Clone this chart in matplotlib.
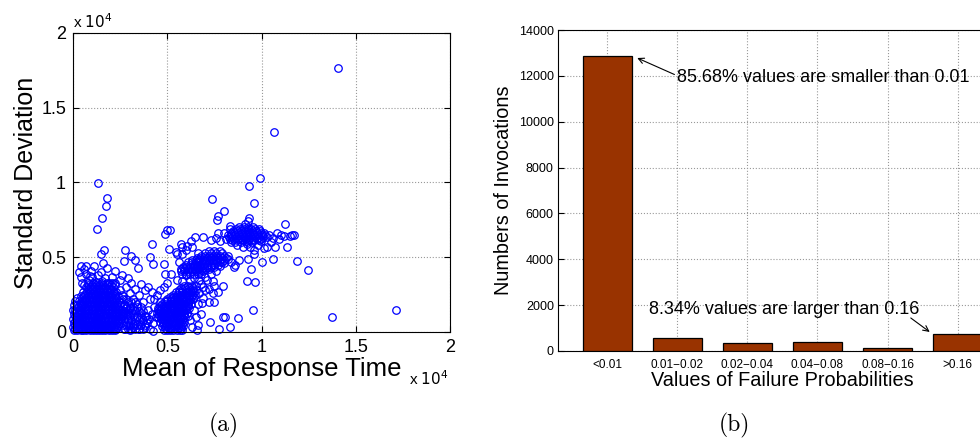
import numpy as np
import matplotlib.pyplot as plt

plt.rcParams['font.family'] = ['Liberation Sans', 'DejaVu Sans']

# ---- (a) scatter, values in units of 1e4 ----
# dense blob near origin, rows of (std, [means])
blob_a = [
    (0.010, [0.005, 0.02, 0.04, 0.055, 0.07, 0.09, 0.105, 0.12, 0.14, 0.155, 0.17, 0.19, 0.205, 0.225]),
    (0.022, [0.012, 0.03, 0.047, 0.062, 0.08, 0.097, 0.112, 0.13, 0.147, 0.162, 0.18, 0.197, 0.215, 0.23]),
    (0.035, [0.0, 0.015, 0.03, 0.05, 0.065, 0.08, 0.10, 0.115, 0.13, 0.15, 0.165, 0.18, 0.20, 0.215, 0.235]),
    (0.048, [0.008, 0.025, 0.04, 0.058, 0.072, 0.09, 0.107, 0.122, 0.14, 0.157, 0.172, 0.19, 0.207, 0.225, 0.24]),
    (0.060, [0.005, 0.02, 0.04, 0.055, 0.075, 0.09, 0.11, 0.125, 0.14, 0.16, 0.175, 0.195, 0.21, 0.23, 0.245]),
    (0.075, [0.012, 0.03, 0.047, 0.065, 0.082, 0.1, 0.117, 0.132, 0.15, 0.167, 0.185, 0.202, 0.22, 0.237, 0.25]),
    (0.090, [0.0, 0.015, 0.03, 0.05, 0.065, 0.085, 0.10, 0.12, 0.135, 0.15, 0.17, 0.185, 0.205, 0.22, 0.24, 0.255]),
    (0.105, [0.008, 0.022, 0.04, 0.057, 0.075, 0.092, 0.11, 0.127, 0.142, 0.16, 0.177, 0.195, 0.212, 0.23, 0.245, 0.26]),
    (0.120, [0.005, 0.025, 0.04, 0.06, 0.075, 0.095, 0.11, 0.13, 0.145, 0.165, 0.18, 0.20, 0.215, 0.235, 0.25, 0.265]),
    (0.135, [0.015, 0.032, 0.05, 0.067, 0.085, 0.102, 0.12, 0.137, 0.155, 0.172, 0.19, 0.207, 0.225, 0.242, 0.258]),
    (0.150, [0.01, 0.03, 0.045, 0.065, 0.08, 0.10, 0.115, 0.135, 0.15, 0.17, 0.185, 0.205, 0.22, 0.24, 0.26]),
    (0.165, [0.025, 0.047, 0.065, 0.082, 0.1, 0.117, 0.135, 0.152, 0.17, 0.187, 0.205, 0.222, 0.24]),
    (0.180, [0.02, 0.04, 0.055, 0.075, 0.09, 0.11, 0.125, 0.145, 0.16, 0.18, 0.195, 0.215, 0.23, 0.25]),
    (0.195, [0.037, 0.057, 0.075, 0.092, 0.11, 0.127, 0.145, 0.162, 0.18, 0.197, 0.215, 0.235]),
    (0.210, [0.03, 0.05, 0.065, 0.085, 0.10, 0.12, 0.135, 0.155, 0.17, 0.19, 0.205, 0.225, 0.245]),
    (0.225, [0.05, 0.07, 0.087, 0.105, 0.122, 0.14, 0.157, 0.175, 0.192, 0.21, 0.23]),
    (0.240, [0.045, 0.06, 0.08, 0.095, 0.115, 0.13, 0.15, 0.165, 0.185, 0.20, 0.22, 0.24]),
    (0.255, [0.062, 0.082, 0.1, 0.117, 0.135, 0.152, 0.17, 0.187, 0.205, 0.225]),
    (0.270, [0.055, 0.075, 0.09, 0.11, 0.125, 0.145, 0.16, 0.18, 0.195, 0.215, 0.23]),
    (0.285, [0.08, 0.1, 0.12, 0.14, 0.16, 0.18, 0.2]),
    (0.300, [0.07, 0.09, 0.11, 0.13, 0.15, 0.17, 0.19, 0.21]),
    (0.315, [0.06, 0.08, 0.10, 0.12, 0.14, 0.16, 0.18, 0.20, 0.22]),
    (0.330, [0.08, 0.105, 0.13, 0.155, 0.18, 0.205]),
]
blob_a2 = [
    (0.02, [0.27, 0.29, 0.31, 0.33, 0.35, 0.37]),
    (0.05, [0.265, 0.28, 0.30, 0.32, 0.34, 0.36, 0.38]),
    (0.08, [0.27, 0.29, 0.31, 0.33, 0.35, 0.37, 0.39]),
    (0.11, [0.265, 0.285, 0.30, 0.32, 0.34, 0.36, 0.38]),
    (0.14, [0.27, 0.29, 0.31, 0.33, 0.35, 0.37]),
    (0.17, [0.28, 0.30, 0.32, 0.34, 0.36]),
    (0.20, [0.29, 0.31, 0.33]),
]
blob_b = [
    (0.010, [0.48, 0.50, 0.515, 0.53, 0.55, 0.565, 0.58]),
    (0.025, [0.49, 0.507, 0.522, 0.54, 0.557, 0.572]),
    (0.040, [0.47, 0.485, 0.50, 0.52, 0.535, 0.55, 0.57, 0.585]),
    (0.055, [0.478, 0.492, 0.51, 0.527, 0.542, 0.56, 0.577]),
    (0.070, [0.46, 0.475, 0.49, 0.51, 0.525, 0.54, 0.56, 0.575, 0.59]),
    (0.085, [0.467, 0.482, 0.5, 0.517, 0.532, 0.55, 0.567, 0.582]),
    (0.100, [0.45, 0.465, 0.48, 0.50, 0.515, 0.53, 0.55, 0.565, 0.58, 0.595]),
    (0.115, [0.455, 0.472, 0.49, 0.507, 0.522, 0.54, 0.557, 0.572, 0.59]),
    (0.130, [0.445, 0.46, 0.475, 0.49, 0.51, 0.525, 0.54, 0.56, 0.575, 0.59, 0.605]),
    (0.145, [0.452, 0.467, 0.482, 0.5, 0.517, 0.532, 0.55, 0.567, 0.582, 0.6]),
    (0.160, [0.45, 0.47, 0.485, 0.50, 0.52, 0.535, 0.55, 0.57, 0.585, 0.60, 0.615]),
    (0.175, [0.46, 0.477, 0.495, 0.512, 0.53, 0.545, 0.562, 0.58, 0.597, 0.612]),
    (0.190, [0.47, 0.49, 0.51, 0.525, 0.54, 0.56, 0.575, 0.59, 0.61, 0.625]),
    (0.205, [0.485, 0.5, 0.517, 0.532, 0.55, 0.567, 0.582, 0.6, 0.617]),
    (0.220, [0.50, 0.52, 0.535, 0.55, 0.57, 0.585, 0.60, 0.62, 0.635]),
    (0.235, [0.515, 0.532, 0.547, 0.562, 0.577, 0.592, 0.607, 0.625, 0.64]),
    (0.250, [0.53, 0.55, 0.565, 0.58, 0.60, 0.615, 0.63, 0.645]),
    (0.265, [0.545, 0.562, 0.58, 0.597, 0.612, 0.627, 0.642]),
    (0.280, [0.56, 0.58, 0.60, 0.62, 0.635, 0.65]),
    (0.295, [0.575, 0.595, 0.615, 0.635]),
    (0.310, [0.59, 0.61, 0.63, 0.65]),
]
blob_c = [
    (0.390, [0.58, 0.60, 0.62, 0.64, 0.66, 0.68]),
    (0.405, [0.57, 0.59, 0.61, 0.63, 0.65, 0.67, 0.69]),
    (0.420, [0.57, 0.59, 0.61, 0.63, 0.645, 0.665, 0.685, 0.70, 0.72]),
    (0.435, [0.585, 0.6, 0.62, 0.64, 0.655, 0.675, 0.695, 0.71, 0.73, 0.745]),
    (0.450, [0.60, 0.62, 0.64, 0.655, 0.675, 0.69, 0.71, 0.73, 0.75, 0.77]),
    (0.465, [0.61, 0.63, 0.65, 0.665, 0.685, 0.70, 0.72, 0.74, 0.76, 0.78, 0.79]),
    (0.480, [0.63, 0.65, 0.67, 0.69, 0.70, 0.72, 0.74, 0.76, 0.78, 0.80]),
    (0.495, [0.655, 0.675, 0.695, 0.71, 0.73, 0.75, 0.77, 0.79, 0.81]),
    (0.510, [0.68, 0.70, 0.72, 0.74, 0.76, 0.78, 0.80, 0.82]),
    (0.525, [0.70, 0.73, 0.76, 0.79]),
    (0.540, [0.72, 0.75, 0.78]),
]
blob_d = [
    (0.6000, [0.86, 0.89, 0.92, 0.95]),
    (0.6125, [0.845, 0.87, 0.9, 0.93, 0.96, 0.985]),
    (0.6250, [0.83, 0.855, 0.875, 0.895, 0.915, 0.935, 0.955, 0.975, 0.995]),
    (0.6375, [0.825, 0.845, 0.865, 0.885, 0.905, 0.925, 0.945, 0.965, 0.985, 1.005, 1.03]),
    (0.6500, [0.82, 0.84, 0.86, 0.88, 0.90, 0.92, 0.94, 0.96, 0.98, 1.00, 1.02, 1.04]),
    (0.6625, [0.835, 0.855, 0.875, 0.895, 0.915, 0.935, 0.955, 0.975, 0.995, 1.015]),
    (0.6750, [0.85, 0.87, 0.89, 0.91, 0.93, 0.95, 0.97, 0.99]),
    (0.6875, [0.865, 0.885, 0.905, 0.925, 0.945, 0.965, 0.985]),
    (0.7000, [0.88, 0.905, 0.93, 0.955]),
]
# scattered points (mean, std)
sparse_mean = [0.05, 0.085, 0.12, 0.155, 0.19, 0.225, 0.04, 0.07, 0.10, 0.135, 0.17, 0.205, 0.25,
               0.03, 0.06, 0.095, 0.11, 0.15, 0.18, 0.22, 0.26, 0.045, 0.16, 0.29, 0.31, 0.28,
               0.275, 0.29, 0.30, 0.31, 0.32, 0.33, 0.34, 0.35, 0.355, 0.36, 0.37, 0.38, 0.385,
               0.39, 0.40, 0.405, 0.41, 0.42, 0.425, 0.43, 0.44, 0.29, 0.30, 0.27, 0.32, 0.34,
               0.265, 0.28, 0.30, 0.32, 0.35, 0.37, 0.38, 0.41, 0.40, 0.36, 0.33, 0.445, 0.46,
               0.455, 0.46,
               0.275, 0.28, 0.27, 0.265, 0.26, 0.25, 0.0, 0.005, 0.01, 0.02,
               0.43, 0.42, 0.64, 0.62, 0.63, 0.61, 0.66, 0.67, 0.68, 0.70, 0.62, 0.60, 0.55,
               0.52, 0.50, 0.48, 0.66, 0.68, 0.72, 0.74, 0.71, 0.69, 0.65, 0.58,
               0.56, 0.55, 0.58, 0.60, 0.63, 0.66, 0.64, 0.67, 0.70, 0.73, 0.76, 0.78, 0.80,
               0.82, 0.84, 0.86, 0.75, 0.77, 0.74, 0.69, 0.72,
               1.06, 1.08, 1.05, 1.03, 1.01, 0.98, 0.96, 0.94, 0.92, 0.90, 0.87, 0.84, 0.81,
               0.80, 0.83, 0.93, 0.91, 1.09, 1.12, 1.15, 0.995, 1.07, 0.78, 0.76, 0.88]
sparse_std = [0.33, 0.345, 0.335, 0.34, 0.33, 0.325, 0.37, 0.385, 0.37, 0.38, 0.36, 0.37, 0.35,
              0.40, 0.42, 0.41, 0.44, 0.40, 0.43, 0.41, 0.38, 0.44, 0.46, 0.36, 0.33, 0.30,
              0.02, 0.05, 0.01, 0.08, 0.03, 0.06, 0.10, 0.02, 0.05, 0.13, 0.08, 0.03, 0.11,
              0.06, 0.15, 0.09, 0.02, 0.12, 0.06, 0.17, 0.10, 0.12, 0.16, 0.18, 0.15, 0.19,
              0.24, 0.22, 0.26, 0.22, 0.25, 0.20, 0.28, 0.22, 0.30, 0.32, 0.29, 0.25, 0.20,
              0.14, 0.28,
              0.13, 0.16, 0.19, 0.22, 0.25, 0.28, 0.15, 0.18, 0.21, 0.23,
              0.22, 0.27, 0.15, 0.08, 0.03, 0.11, 0.19, 0.26, 0.32, 0.28, 0.35, 0.38, 0.35,
              0.39, 0.33, 0.30, 0.05, 0.12, 0.20, 0.26, 0.35, 0.23, 0.10, 0.34,
              0.47, 0.52, 0.52, 0.55, 0.57, 0.53, 0.36, 0.35, 0.37, 0.39, 0.41, 0.44, 0.46,
              0.49, 0.47, 0.45, 0.31, 0.27, 0.34, 0.30, 0.29,
              0.63, 0.66, 0.60, 0.57, 0.56, 0.58, 0.55, 0.57, 0.59, 0.57, 0.58, 0.60, 0.62,
              0.66, 0.69, 0.74, 0.72, 0.62, 0.64, 0.64, 0.61, 0.57, 0.61, 0.63, 0.62]
# isolated outliers (mean, std)
outlier_mean = [1.407, 1.065, 1.710, 1.375, 1.248, 1.188, 0.989, 0.935, 0.958, 0.133, 0.181,
                0.177, 0.154, 0.127, 0.149, 0.166, 0.736, 0.798, 0.770, 0.765, 0.933, 0.956,
                1.122, 1.103, 1.136, 1.163, 1.173, 1.058, 1.000, 0.961, 0.942, 0.920, 0.963,
                0.956, 0.876, 0.830, 0.805, 0.795, 0.773, 0.724, 0.655, 0.425, 0.750, 0.685,
                0.793, 0.855, 0.880, 0.929, 0.496, 0.515, 0.485, 0.421, 0.407, 0.423, 0.274,
                0.271, 0.308, 0.327, 0.347, 0.481, 0.485, 0.510, 0.545, 0.580, 0.575, 0.604,
                0.627, 0.646, 0.690, 0.729, 0.770, 0.832, 0.069, 0.088]
outlier_std = [1.766, 1.336, 0.149, 0.100, 0.415, 0.477, 1.030, 0.974, 0.863, 0.997, 0.894,
               0.841, 0.760, 0.691, 0.524, 0.546, 0.892, 0.809, 0.774, 0.747, 0.760, 0.658,
               0.722, 0.651, 0.566, 0.649, 0.649, 0.488, 0.468, 0.522, 0.421, 0.339, 0.334,
               0.145, 0.094, 0.033, 0.098, 0.100, 0.022, 0.067, 0.013, 0.004, 0.201, 0.194,
               0.310, 0.433, 0.484, 0.488, 0.685, 0.685, 0.658, 0.589, 0.499, 0.455, 0.551,
               0.477, 0.511, 0.484, 0.428, 0.455, 0.388, 0.557, 0.537, 0.566, 0.589, 0.573,
               0.609, 0.635, 0.633, 0.618, 0.662, 0.707, 0.439, 0.372]

# ---- (b) histogram of failure probabilities ----
fp_bins = ['<0.01', '0.01\u22120.02', '0.02\u22120.04', '0.04\u22120.08', '0.08\u22120.16', '>0.16']
fp_counts = [12850, 555, 365, 380, 145, 728]

means, stds = [], []
for blob in (blob_a, blob_a2, blob_b, blob_c, blob_d):
    for s, row in blob:
        means += row
        stds += [s] * len(row)
means += sparse_mean + outlier_mean
stds += sparse_std + outlier_std

fig = plt.figure(figsize=(9.8, 4.43), dpi=100)

# (a)
ax1 = fig.add_axes([0.0745, 0.2506, 0.385, 0.675])
ax1.plot(means, stds, 'o', ms=5.4, mfc='none', mec='blue', mew=0.9, clip_on=False)
ax1.set_xlim(0, 2)
ax1.set_ylim(0, 2)
ax1.set_xticks([0, 0.5, 1, 1.5, 2])
ax1.set_yticks([0, 0.5, 1, 1.5, 2])
ax1.set_xticklabels(['0', '0.5', '1', '1.5', '2'])
ax1.set_yticklabels(['0', '0.5', '1', '1.5', '2'])
ax1.tick_params(direction='in', top=True, right=True, labelsize=13, length=4, pad=5)
ax1.grid(True, ls=':', color='#999999', lw=0.8)
ax1.set_xlabel('Mean of Response Time', fontsize=18.5, labelpad=1)
ax1.set_ylabel('Standard Deviation', fontsize=18, labelpad=2)
ax1.text(0.0, 1.005, 'x $10^4$', transform=ax1.transAxes, fontsize=11, va='bottom', ha='left')
ax1.text(0.995, -0.155, 'x $10^4$', transform=ax1.transAxes, fontsize=11, va='center', ha='right')
fig.text(0.2285, 0.025, '(a)', fontsize=17, family='cmr10', ha='center')

# (b)
ax2 = fig.add_axes([0.5694, 0.2077, 0.458, 0.7245])
xs = np.arange(1, len(fp_counts) + 1)
ax2.bar(xs, fp_counts, width=0.7, color='#993300', edgecolor='black', lw=0.9, zorder=3)
ax2.set_xlim(0.3, 6.7)
ax2.set_ylim(0, 14000)
ax2.set_yticks(np.arange(0, 14001, 2000))
ax2.set_xticks(xs)
ax2.set_xticklabels(fp_bins, fontsize=8.5)
ax2.tick_params(axis='y', direction='in', labelsize=9, length=4, pad=3)
ax2.tick_params(axis='x', direction='in', length=0, pad=6)
ax2.grid(True, ls=':', color='#999999', lw=0.8, zorder=0)
ax2.set_xlabel('Values of Failure Probabilities', fontsize=14.3, labelpad=0)
ax2.set_ylabel('Numbers of Invocations', fontsize=14.3, labelpad=4)
ax2.text(2.0, 11950, '85.68% values are smaller than 0.01', fontsize=13, va='center', ha='left')
ax2.annotate('', xy=(1.43, 12780), xytext=(1.96, 12060),
             arrowprops=dict(arrowstyle='->', lw=0.8, color='black', shrinkA=0, shrinkB=0))
ax2.text(1.6, 1830, '8.34% values are larger than 0.16', fontsize=13, va='center', ha='left')
ax2.annotate('', xy=(5.6, 830), xytext=(5.33, 1440),
             arrowprops=dict(arrowstyle='->', lw=0.8, color='black', shrinkA=0, shrinkB=0))
fig.text(0.749, 0.025, '(b)', fontsize=17, family='cmr10', ha='center')

fig.savefig('out.png', dpi=100)
